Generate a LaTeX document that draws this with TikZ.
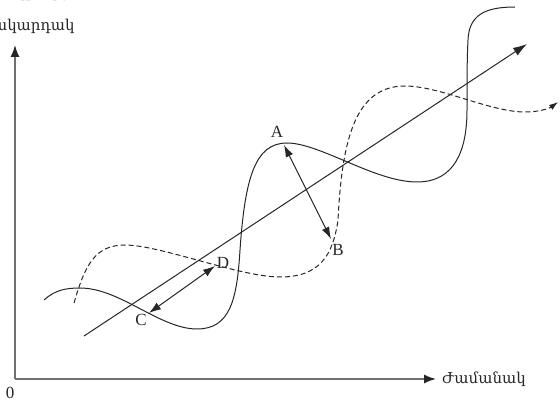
\documentclass[tikz,border=0pt]{standalone}
\usepackage{fontspec}
\setmainfont{Liberation Serif}
\usepackage{tikz}
\usetikzlibrary{arrows.meta,positioning}
\newfontfamily\armfont{DejaVu Serif}
\definecolor{inkx}{HTML}{262626}
\definecolor{axisx}{HTML}{707070}
\tikzset{
  ax/.style={-{Latex[length=12pt,width=9pt,color=inkx]},line width=1.4pt,axisx},
  curve/.style={line width=1pt,inkx},
  dashcurve/.style={curve,dash pattern=on 5pt off 3pt,-{Latex[length=9pt,width=6pt]}},
  trend/.style={line width=1pt,inkx,-{Latex[length=14pt,width=9pt]}},
  gap/.style={line width=1pt,inkx,{Latex[length=12pt,width=8pt]}-{Latex[length=12pt,width=8pt]}},
  lbl/.style={font=\fontsize{17}{20}\selectfont,inkx,inner sep=0pt},
  armlbl/.style={font=\armfont\fontsize{15}{33}\selectfont,inkx,inner sep=0pt}
}
\begin{document}
\begin{tikzpicture}[x=1pt,y=-1pt]
\useasboundingbox (0,0) rectangle (560,403);
% axes
\coordinate (O) at (15,379);
\coordinate (yend) at (15,45);
\coordinate (xend) at (436,379);
\draw[ax] (O) -- (yend);
\draw[ax] (O) -- (xend);
\node[lbl] (zero) at (10,393) {0};
\node[armlbl,right=6pt of xend] (time) {Ժամանակ};
\node[armlbl,align=center,anchor=south] (level) at (29,34) {Արտադրության\\մակարդակ};
% trend
\coordinate (tr0) at (84,336);
\coordinate (tr1) at (527,44);
\draw[trend] (tr0) -- (tr1);
% solid cycle
\draw[curve] (44,300) .. controls (55,290) and (66,288) .. (80,288)
  .. controls (120,288) and (160,329) .. (197,329)
  .. controls (230,329) and (237,300) .. (240,250)
  .. controls (245,178) and (255,143) .. (287,143)
  .. controls (320,143) and (375,182) .. (417,182)
  .. controls (455,182) and (467,150) .. (467,110)
  .. controls (467,80) and (467,60) .. (468,40)
  .. controls (469,15) and (485,7) .. (515,7);
% dashed cycle
\draw[dashcurve] (74,303) .. controls (85,265) and (95,245) .. (125,245)
  .. controls (160,245) and (240,277) .. (280,277)
  .. controls (320,277) and (333,255) .. (338,220)
  .. controls (342,140) and (355,86) .. (405,86)
  .. controls (440,86) and (490,112) .. (525,112)
  .. controls (540,112) and (550,108) .. (558,102);
% labels and gaps
\node[lbl] (A) at (277,132) {A};
\node[lbl] (B) at (338,250) {B};
\node[lbl] (C) at (141,320) {C};
\node[lbl] (D) at (223,263) {D};
\coordinate (pA) at (284,145);
\coordinate (pB) at (331,239);
\coordinate (pC) at (149,313);
\coordinate (pD) at (215,266);
\draw[gap] (pA) -- (pB);
\draw[gap] (pC) -- (pD);
\end{tikzpicture}
\end{document}
